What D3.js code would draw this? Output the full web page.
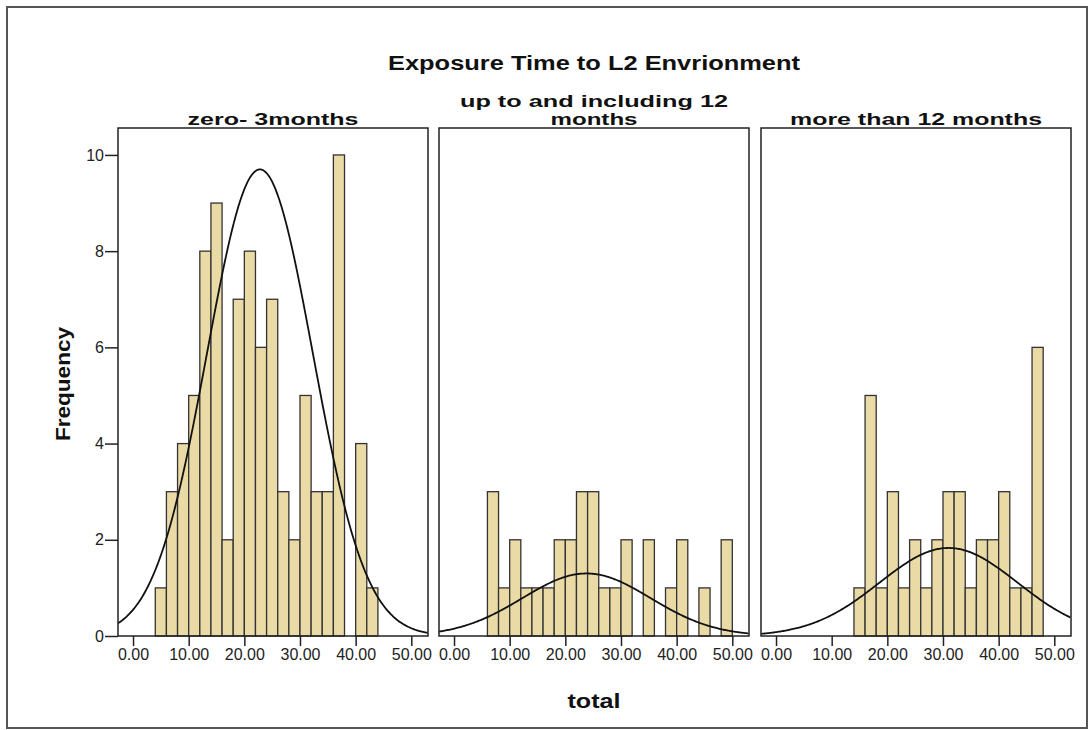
<!DOCTYPE html>
<html>
<head>
<meta charset="utf-8">
<script src="https://cdn.jsdelivr.net/npm/d3@7"></script>
<style>
  html, body { margin: 0; padding: 0; background: #fff; }
  svg { display: block; font-family: "Liberation Sans", Arial, sans-serif; }
</style>
</head>
<body>
<svg id="chart" width="1090" height="730"></svg>
<script>
// ---------------- data ----------------
const chartTitle = "Exposure Time to L2 Envrionment";
const panelTitles = [["zero- 3months"], ["up to and including 12", "months"], ["more than 12 months"]];
const xLabel = "total";
const yLabel = "Frequency";
const binWidth = 2;
const binStarts = [4, 6, 14];
const countsZeroTo3 = [1, 3, 4, 5, 8, 9, 2, 7, 8, 6, 7, 3, 2, 5, 3, 3, 10, 0, 4, 1];
const countsUpTo12 = [3, 1, 2, 1, 1, 1, 2, 2, 3, 3, 1, 1, 2, 0, 2, 0, 1, 2, 0, 1, 0, 2];
const countsOver12 = [1, 5, 1, 3, 1, 2, 1, 2, 3, 3, 1, 2, 2, 3, 1, 1, 6];
const panelCounts = [countsZeroTo3, countsUpTo12, countsOver12];
// fitted normal curves: mean, sd, peak height
const curveMeans = [22.8, 23.8, 31.0];
const curveSDs = [9.5, 11.5, 12.4];
const curvePeaks = [9.7, 1.3, 1.83];
const xTicks = [0, 10, 20, 30, 40, 50];
const yTicks = [0, 2, 4, 6, 8, 10];

// ---------------- layout ----------------
const svg = d3.select("#chart");
const panelLefts = [118, 439, 761];
const panelW = 310;
const plotTop = 128, plotBottom = 636;
const xDomain = [-2.7, 53.0];
const y = d3.scaleLinear().domain([0, 10.56]).range([plotBottom, plotTop]);

// outer frame
svg.append("rect").attr("x", 7).attr("y", 7).attr("width", 1080).attr("height", 721)
  .attr("fill", "none").attr("stroke", "#555").attr("stroke-width", 2);

function stretchedText(x, yPos, txt, size, len, opts = {}) {
  const t = svg.append("text")
    .attr("x", x).attr("y", yPos)
    .attr("text-anchor", "middle")
    .attr("font-size", size)
    .attr("font-weight", "bold")
    .attr("fill", "#111")
    .text(txt);
  if (len) t.attr("textLength", len).attr("lengthAdjust", "spacingAndGlyphs");
  if (opts.rotate) t.attr("transform", `rotate(-90,${x},${yPos})`);
  return t;
}

stretchedText(594, 70, chartTitle, 20, 412);
stretchedText(594, 708, xLabel, 21, 53);
stretchedText(70, 384, yLabel, 21, 114, { rotate: true });

const titleLens = [[171], [268, 87], [252]];

panelCounts.forEach((counts, p) => {
  const left = panelLefts[p];
  const x = d3.scaleLinear().domain(xDomain).range([left, left + panelW]);
  const g = svg.append("g");

  // panel title
  const lines = panelTitles[p];
  lines.forEach((ln, i) => {
    const yy = 125 - (lines.length - 1 - i) * 18;
    stretchedText(left + panelW / 2, yy, ln, 17, titleLens[p][i]);
  });

  // bars
  const bins = counts.map((c, i) => ({ x0: binStarts[p] + i * binWidth, x1: binStarts[p] + (i + 1) * binWidth, c }))
    .filter(d => d.c > 0);
  g.selectAll("rect.bar").data(bins).enter().append("rect")
    .attr("class", "bar")
    .attr("x", d => x(d.x0))
    .attr("width", d => x(d.x1) - x(d.x0))
    .attr("y", d => y(d.c))
    .attr("height", d => y(0) - y(d.c))
    .attr("fill", "#e9daa6")
    .attr("stroke", "#333")
    .attr("stroke-width", 1.3);

  // normal curve
  const clipId = "clip" + p;
  svg.append("clipPath").attr("id", clipId).append("rect")
    .attr("x", left).attr("y", plotTop).attr("width", panelW).attr("height", plotBottom - plotTop);
  const m = curveMeans[p], s = curveSDs[p], pk = curvePeaks[p];
  const pts = d3.range(xDomain[0], xDomain[1] + 0.1, 0.2).map(v => [v, pk * Math.exp(-((v - m) ** 2) / (2 * s * s))]);
  g.append("path")
    .attr("d", d3.line().x(d => x(d[0])).y(d => y(d[1])).curve(d3.curveBasis)(pts))
    .attr("fill", "none").attr("stroke", "#111").attr("stroke-width", 1.8)
    .attr("clip-path", `url(#${clipId})`);

  // panel frame
  g.append("rect").attr("x", left).attr("y", plotTop).attr("width", panelW).attr("height", plotBottom - plotTop)
    .attr("fill", "none").attr("stroke", "#222").attr("stroke-width", 1.5);

  // x axis
  const xa = svg.append("g").attr("transform", `translate(0,${plotBottom})`)
    .call(d3.axisBottom(x).tickValues(xTicks).tickFormat(d3.format(".2f")).tickSize(10).tickSizeOuter(0));
  xa.select(".domain").remove();
  xa.selectAll(".tick line").attr("stroke", "#222").attr("stroke-width", 1.5);
  xa.selectAll(".tick text").attr("font-size", 16).attr("font-family", "Liberation Sans, Arial, sans-serif")
    .attr("fill", "#222").attr("dy", "0.9em").attr("y", 10);

  // y axis on first panel only
  if (p === 0) {
    const ya = svg.append("g").attr("transform", `translate(${left},0)`)
      .call(d3.axisLeft(y).tickValues(yTicks).tickFormat(d3.format("d")).tickSize(13).tickPadding(1));
    ya.select(".domain").remove();
    ya.selectAll(".tick line").attr("stroke", "#222").attr("stroke-width", 1.5);
    ya.selectAll(".tick text").attr("font-size", 16).attr("font-family", "Liberation Sans, Arial, sans-serif")
      .attr("fill", "#222");
  }
});
</script>
</body>
</html>
